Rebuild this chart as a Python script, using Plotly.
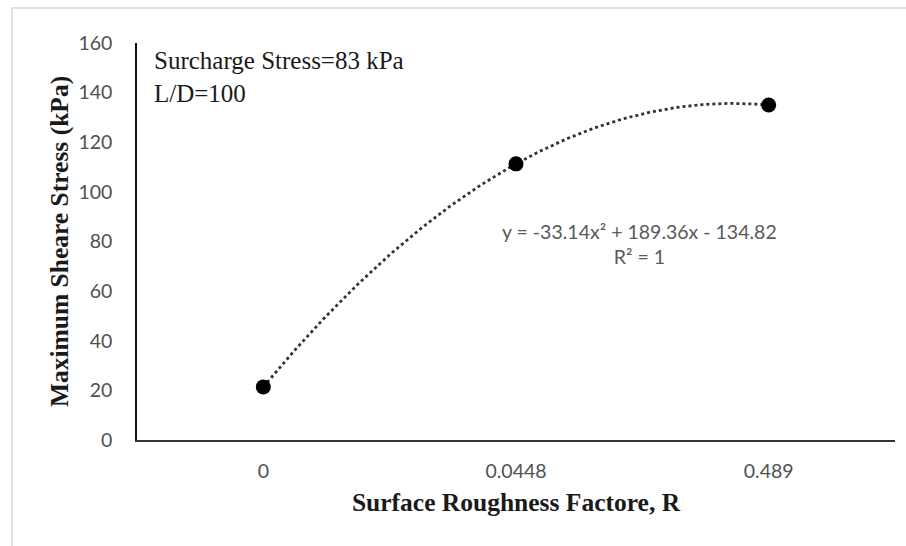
import numpy as np
import plotly.graph_objects as go

# Data
categories = ["0", "0.0448", "0.489"]
max_shear = [21.4, 111.3, 135.0]
y_ticks = [0, 20, 40, 60, 80, 100, 120, 140, 160]
annotation_lines = ["Surcharge Stress=83 kPa", "L/D=100"]
equation_text = "y = -33.14x² + 189.36x - 134.82<br>R² = 1"

x_idx = np.arange(1, len(categories) + 1)

# Polynomial (order 2) trendline fitted to the data, as Excel does
coef = np.polyfit(x_idx, max_shear, 2)
x_fit = np.linspace(x_idx[0], x_idx[-1], 200)
y_fit = np.polyval(coef, x_fit)

fig = go.Figure()
fig.add_trace(go.Scatter(
    x=x_fit, y=y_fit, mode="lines",
    line=dict(color="#333333", width=2.8, dash="dot"),
    hoverinfo="skip", showlegend=False,
))
fig.add_trace(go.Scatter(
    x=x_idx, y=max_shear, mode="markers",
    marker=dict(color="black", size=15),
    showlegend=False,
))

tick_font = dict(family="Lato, Carlito, sans-serif", size=19.5, color="#505050")
title_font = dict(family="Liberation Serif, Times New Roman, serif", size=25.5, color="#1a1a1a")

fig.update_xaxes(
    range=[0.5, len(categories) + 0.5],
    tickvals=list(x_idx), ticktext=categories,
    showline=True, linecolor="#333333", linewidth=1.5,
    showgrid=False, zeroline=False, ticks="",
    tickfont=tick_font, ticklabelstandoff=13,
    title=dict(text="<b>Surface Roughness Factore, R</b>", font=title_font, standoff=12),
)
fig.update_yaxes(
    range=[0, 160], tickvals=y_ticks,
    showline=True, linecolor="#111111", linewidth=1.5,
    showgrid=False, zeroline=False, ticks="",
    tickfont=tick_font, ticklabelstandoff=19,
    title=dict(text="<b>Maximum Sheare Stress (kPa)</b>", font=title_font, standoff=2),
)

fig.add_annotation(
    xref="paper", yref="paper", x=0.02, y=0.995, xanchor="left", yanchor="top",
    text="<br>".join(annotation_lines), showarrow=False, align="left",
    font=dict(family="Liberation Serif, Times New Roman, serif", size=25, color="#1a1a1a"),
)
fig.add_annotation(
    x=2.49, y=79, xref="x", yref="y",
    text=equation_text, showarrow=False, align="center",
    font=dict(family="Lato, Carlito, sans-serif", size=19.5, color="#595959"),
)

# Chart border (Excel chart frame, cropped on right and bottom)
fig.add_shape(
    type="rect", xref="paper", yref="paper",
    x0=-0.165, x1=1.2, y0=-0.5, y1=1.088,
    line=dict(color="#d9d9d9", width=1.5), fillcolor="rgba(0,0,0,0)", layer="below",
)

fig.update_layout(
    width=906, height=546,
    margin=dict(l=137, r=11, t=43, b=106),
    paper_bgcolor="white", plot_bgcolor="white",
)

fig.write_html("out.html")
